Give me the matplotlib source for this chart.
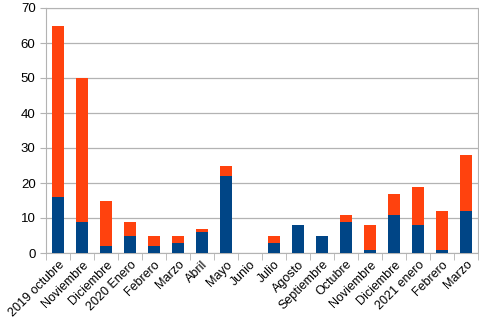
import numpy as np
import matplotlib.pyplot as plt

plt.rcParams['font.family'] = ['Liberation Sans', 'DejaVu Sans']

# Data
meses = ["2019 octubre", "Noviembre", "Diciembre", "2020 Enero", "Febrero",
         "Marzo", "Abril", "Mayo", "Junio", "Julio", "Agosto", "Septiembre",
         "Octubre", "Noviembre", "Diciembre", "2021 enero", "Febrero", "Marzo"]
azul = [16, 9, 2, 5, 2, 3, 6, 22, 0, 3, 8, 5, 9, 1, 11, 8, 1, 12]
naranja = [49, 41, 13, 4, 3, 2, 1, 3, 0, 2, 0, 0, 2, 7, 6, 11, 11, 16]

# ============================================================================

fig = plt.figure(figsize=(4.79, 3.33), dpi=100)
ax = fig.add_axes([46 / 479, 80 / 333, 432 / 479, 245 / 333])

x = np.arange(len(meses))
ax.bar(x, azul, width=0.5, color="#004586", zorder=3)
ax.bar(x, naranja, width=0.5, bottom=azul, color="#ff420e", zorder=3)

ax.set_xlim(-0.5, len(meses) - 0.5)
ax.set_ylim(0, 70)
ax.set_yticks(range(0, 71, 10))
ax.yaxis.grid(True, color="#b3b3b3", linewidth=0.9, zorder=0)

ax.set_xticks(x)
ax.set_xticklabels(meses, rotation=45, ha="right", rotation_mode="anchor",
                   fontsize=9)
ax.set_xticks(np.arange(-0.5, len(meses)), minor=True)
ax.tick_params(axis="x", which="major", length=0, pad=4)
ax.tick_params(axis="x", which="minor", length=5, color="#b3b3b3")
ax.tick_params(axis="y", length=4, color="#b3b3b3", labelsize=9.5)

for s in ax.spines.values():
    s.set_color("#b3b3b3")

fig.savefig("out.png", dpi=100)
